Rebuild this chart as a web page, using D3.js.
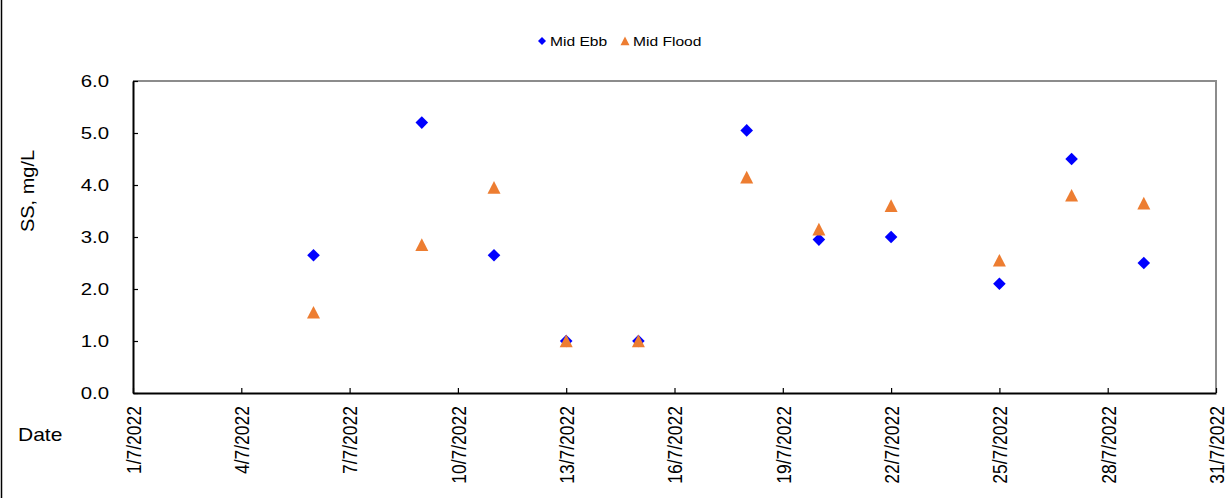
<!DOCTYPE html>
<html><head><meta charset="utf-8">
<script src="https://cdn.jsdelivr.net/npm/d3@7"></script>
<style>
body{margin:0;background:#fff;}
text{font-family:"Liberation Sans",Arial,sans-serif;fill:#000;}
</style></head>
<body><svg id="c" width="1229" height="498"></svg>
<script>
const dates = ["2022-07-06","2022-07-09","2022-07-11","2022-07-13","2022-07-15","2022-07-18","2022-07-20","2022-07-22","2022-07-25","2022-07-27","2022-07-29"];
const midEbb = [2.65,5.2,2.65,1.0,1.0,5.05,2.95,3.0,2.1,4.5,2.5];
const midFlood = [1.55,2.85,3.95,1.0,1.0,4.15,3.15,3.6,2.55,3.8,3.65];
const yTicks = [0,1,2,3,4,5,6];
const xTickDates = ["2022-07-01","2022-07-04","2022-07-07","2022-07-10","2022-07-13","2022-07-16","2022-07-19","2022-07-22","2022-07-25","2022-07-28","2022-07-31"];
const seriesNames = ["Mid Ebb","Mid Flood"];
const colors = ["#0000FF","#ED7D31"];

const SX = 1.2; // horizontal text stretch
const svg = d3.select("#c");
const L=133,R=1216,T=81,B=393;
const parse = d3.utcParse("%Y-%m-%d");
const x = d3.scaleUtc().domain([parse("2022-07-01"),parse("2022-07-31")]).range([L,R]);
const y = d3.scaleLinear().domain([0,6]).range([B,T]);

// outer left border
svg.append("line").attr("x1",1.5).attr("x2",1.5).attr("y1",0).attr("y2",498).attr("stroke","#000").attr("stroke-width",1.5);

// top/right frame
svg.append("path").attr("d",`M${L},${T}H${R}V${B}`).attr("fill","none").attr("stroke","#8c8c8c").attr("stroke-width",2);

// y axis
const ya = svg.append("g").attr("transform",`translate(${L},0)`)
  .call(d3.axisLeft(y).tickValues(yTicks).tickSize(-5).tickSizeOuter(0).tickFormat(d3.format(".1f")));
ya.select(".domain").attr("stroke","#000").attr("stroke-width",2);
ya.selectAll(".tick line").attr("stroke","#000").attr("stroke-width",1.2);
ya.selectAll(".tick text").attr("font-size",17).attr("x",-24/SX).attr("dy","0.35em")
  .attr("transform",`scale(${SX},1)`).attr("font-family","Liberation Sans, Arial, sans-serif");

// x axis
const xa = svg.append("g").attr("transform",`translate(0,${B})`)
  .call(d3.axisBottom(x).tickValues(xTickDates.map(parse)).tickSize(-5).tickSizeOuter(0)
    .tickFormat(d=>`${d.getUTCDate()}/${d.getUTCMonth()+1}/${d.getUTCFullYear()}`));
xa.select(".domain").attr("stroke","#000").attr("stroke-width",2);
xa.selectAll(".tick line").attr("stroke","#000").attr("stroke-width",1.2);
xa.selectAll(".tick text").attr("font-size",17.5).attr("x",0).attr("y",0).attr("dy","0.35em")
  .attr("text-anchor","end").attr("transform",`translate(0,13) scale(${SX},1) rotate(-90)`)
  .attr("font-family","Liberation Sans, Arial, sans-serif");

// axis titles
svg.append("text").attr("transform",`translate(34,191) scale(0.95,1) rotate(-90)`)
  .attr("text-anchor","middle").attr("font-size",20).text("SS, mg/L");
svg.append("text").attr("transform",`translate(18,441) scale(${SX},1)`)
  .attr("font-size",17.5).text("Date");

// markers
const diamond = s=>`M0,${-s}L${s},0L0,${s}L${-s},0Z`;
const tri = s=>`M0,${-s}L${s},${s*0.95}L${-s},${s*0.95}Z`;
svg.append("g").selectAll("path").data(dates.map((d,i)=>({d:parse(d),v:midEbb[i]}))).join("path")
  .attr("d",diamond(6.3)).attr("fill",colors[0])
  .attr("transform",p=>`translate(${x(p.d)},${y(p.v)})`);
svg.append("g").selectAll("path").data(dates.map((d,i)=>({d:parse(d),v:midFlood[i]}))).join("path")
  .attr("d",tri(6.5)).attr("fill",colors[1])
  .attr("transform",p=>`translate(${x(p.d)},${y(p.v)})`);

// legend
const lg = svg.append("g");
lg.append("path").attr("d",diamond(4)).attr("fill",colors[0]).attr("transform","translate(542,41)");
lg.append("text").attr("transform",`translate(550,46) scale(${SX},1)`).attr("font-size",13).text(seriesNames[0]);
lg.append("path").attr("d",tri(4.5)).attr("fill",colors[1]).attr("transform","translate(625,41)");
lg.append("text").attr("transform",`translate(633,46) scale(${SX},1)`).attr("font-size",13).text(seriesNames[1]);
</script></body></html>
